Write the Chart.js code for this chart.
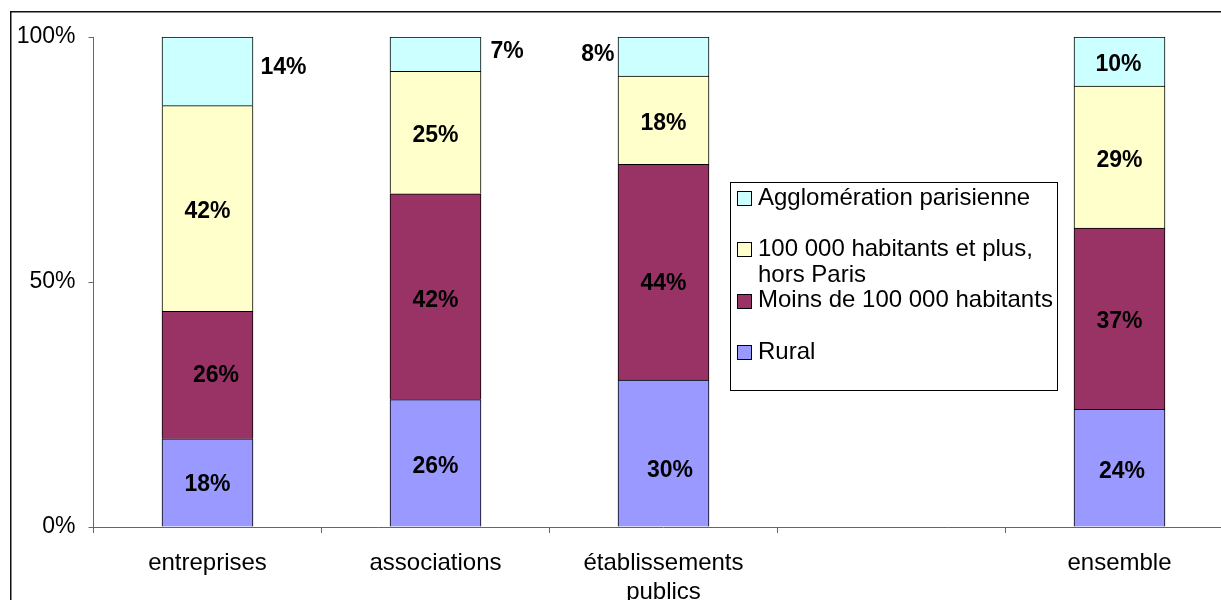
<!DOCTYPE html>
<html>
<head>
<meta charset="utf-8">
<title>Répartition géographique</title>
<script src="https://cdn.jsdelivr.net/npm/chart.js@4/dist/chart.umd.min.js"></script>
<style>
  html, body { margin: 0; padding: 0; background: #fff; overflow: hidden; width: 1221px; height: 600px; }
  #chart { position: absolute; left: 0; top: 0; }
</style>
</head>
<body>
<canvas id="chart" width="1250" height="620" style="width:1250px;height:620px"></canvas>
<script>
// Categories along the x axis (one empty slot before "ensemble")
const categories = ['entreprises', 'associations', ['établissements', 'publics'], '', 'ensemble'];

// Shares per category, in percent (bottom to top of each stack)
const rural         = [18, 26, 30, null, 24];
const moinsDe100k   = [26, 42, 44, null, 37];
const plusDe100k    = [42, 25, 18, null, 29];
const agglomeration = [14, 7, 8, null, 10];

const seriesNames = [
  'Rural',
  'Moins de 100 000 habitants',
  '100 000 habitants et plus, hors Paris',
  'Agglomération parisienne'
];
const yTicks = [0, 50, 100];

const FONT = '"Liberation Sans", Arial, Helvetica, sans-serif';
const LABEL_SIZE = 23;

// Labels of the thin top segments sit beside their bar: [side, gap, dy]
const outsideLabels = {
  '3:0': ['right', 7.5, -6],
  '3:1': ['right', 9.5, -4],
  '3:2': ['left', 3.5, -4.3]
};
// Hand-placed offsets of some inside labels: [dx, dy] from the segment centre
const labelNudge = {
  '0:2': [6.5, 15.5],
  '0:4': [2.5, 2.3],
  '0:1': [0, 1.7],
  '0:0': [0, 0],
  '1:0': [8.5, -1],
  '1:1': [0, 2.5],
  '1:2': [0, 9.7],
  '3:4': [-1, 1]
};
const defaultNudge = [0, 1.3];

const valueLabels = {
  id: 'valueLabels',
  afterDatasetsDraw(chart) {
    const ctx = chart.ctx;
    ctx.save();
    ctx.font = 'bold ' + LABEL_SIZE + 'px ' + FONT;
    ctx.fillStyle = '#000';
    ctx.textBaseline = 'alphabetic';
    const half = 0.358 * LABEL_SIZE; // half the digit height
    chart.data.datasets.forEach((ds, i) => {
      const meta = chart.getDatasetMeta(i);
      meta.data.forEach((bar, j) => {
        const v = ds.data[j];
        if (v == null) return;
        const p = bar.getProps(['x', 'y', 'base', 'width'], true);
        const cy = (p.y + p.base) / 2;
        const txt = v + '%';
        const key = i + ':' + j;
        const out = outsideLabels[key];
        if (out) {
          const [side, gap, dy] = out;
          if (side === 'right') {
            ctx.textAlign = 'left';
            ctx.fillText(txt, p.x + p.width / 2 + gap, cy + dy + half);
          } else {
            ctx.textAlign = 'right';
            ctx.fillText(txt, p.x - p.width / 2 - gap, cy + dy + half);
          }
        } else {
          const [dx, dy] = labelNudge[key] || defaultNudge;
          ctx.textAlign = 'center';
          ctx.fillText(txt, p.x + dx, cy + dy + half);
        }
      });
    });
    ctx.restore();
  }
};

// Outer frame and boxed legend inside the plot
const frameAndLegend = {
  id: 'frameAndLegend',
  afterDraw(chart) {
    const ctx = chart.ctx;
    ctx.save();
    // outer frame
    ctx.strokeStyle = '#111';
    ctx.lineWidth = 1.5;
    ctx.strokeRect(10.75, 11.75, 2000, 2000);

    // legend box
    const box = { x: 730.5, y: 182.5, w: 327, h: 208 };
    ctx.fillStyle = '#fff';
    ctx.fillRect(box.x, box.y, box.w, box.h);
    ctx.strokeStyle = '#000';
    ctx.lineWidth = 1;
    ctx.strokeRect(box.x, box.y, box.w, box.h);

    ctx.font = '24px ' + FONT;
    ctx.textBaseline = 'middle';
    ctx.textAlign = 'left';
    const maxW = 300, lineH = 26, slot = 51.3;
    const items = chart.data.datasets.slice().reverse();
    items.forEach((ds, k) => {
      const cy = 198 + k * slot;
      // swatch
      ctx.fillStyle = ds.backgroundColor;
      ctx.fillRect(737.5, Math.round(cy - 7) + 0.5, 14, 14);
      ctx.strokeStyle = '#000';
      ctx.strokeRect(737.5, Math.round(cy - 7) + 0.5, 14, 14);
      // wrapped text
      const words = ds.label.split(' ');
      const lines = [];
      let cur = '';
      words.forEach(w => {
        const test = cur ? cur + ' ' + w : w;
        if (ctx.measureText(test).width > maxW && cur) { lines.push(cur); cur = w; }
        else cur = test;
      });
      if (cur) lines.push(cur);
      ctx.fillStyle = '#000';
      lines.forEach((ln, li) => ctx.fillText(ln, 758, cy + li * lineH));
    });
    ctx.restore();
  }
};

const colors = ['#9999FF', '#993366', '#FFFFCC', '#CCFFFF'];
const seriesData = [rural, moinsDe100k, plusDe100k, agglomeration];

new Chart(document.getElementById('chart'), {
  type: 'bar',
  data: {
    labels: categories,
    datasets: seriesData.map((d, i) => ({
      label: seriesNames[i],
      data: d,
      backgroundColor: colors[i],
      borderColor: '#000',
      borderWidth: 1,
      barThickness: 91
    }))
  },
  options: {
    responsive: false,
    devicePixelRatio: 1,
    animation: false,
    layout: { padding: { top: 37, right: 16.5, left: 0, bottom: 0 } },
    plugins: { legend: { display: false }, tooltip: { enabled: false } },
    scales: {
      x: {
        stacked: true,
        grid: { offset: true, drawOnChartArea: false, drawTicks: true, tickLength: 6, color: '#666' },
        border: { display: true, color: '#666', width: 1 },
        ticks: { color: '#000', font: { family: FONT, size: 24 }, padding: 16, maxRotation: 0, autoSkip: false },
        afterFit(scale) { scale.height = 93; }
      },
      y: {
        stacked: true,
        min: 0,
        max: 100,
        afterBuildTicks(scale) { scale.ticks = yTicks.map(v => ({ value: v })); },
        grid: { drawOnChartArea: false, drawTicks: true, tickLength: 5, color: '#666' },
        border: { display: true, color: '#666', width: 1 },
        ticks: { color: '#000', font: { family: FONT, size: 23 }, padding: 13, callback: v => v + '%' },
        afterFit(scale) { scale.width = 93.5; }
      }
    }
  },
  plugins: [valueLabels, frameAndLegend]
});
</script>
</body>
</html>
